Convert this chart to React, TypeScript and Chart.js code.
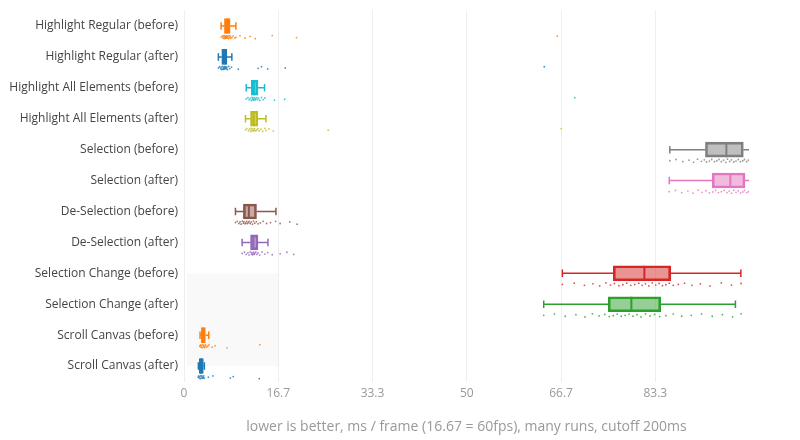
import React, { useEffect, useRef } from "react";
import { Chart, registerables } from "chart.js";

Chart.register(...registerables);

const categories = [
  "Highlight Regular (before)",
  "Highlight Regular (after)",
  "Highlight All Elements (before)",
  "Highlight All Elements (after)",
  "Selection (before)",
  "Selection (after)",
  "De-Selection (before)",
  "De-Selection (after)",
  "Selection Change (before)",
  "Selection Change (after)",
  "Scroll Canvas (before)",
  "Scroll Canvas (after)",
];

const colors = [
  "#ff7f0e", "#1f77b4", "#17becf", "#bcbd22", "#7f7f7f", "#e377c2",
  "#8c564b", "#9467bd", "#d62728", "#2ca02c", "#ff7f0e", "#1f77b4",
];

const whiskerLow = [6.56, 6.08, 11.0, 10.87, 85.9, 85.8, 9.1, 10.28, 66.9, 63.6, 2.84, 2.54];
const q1 = [7.15, 6.68, 11.9, 11.76, 92.2, 93.4, 10.5, 11.76, 75.9, 75.0, 3.07, 2.71];
const median = [7.62, 7.15, 12.4, 12.36, 95.9, 96.6, 11.47, 12.3, 81.4, 79.1, 3.42, 3.0];
const q3 = [8.16, 7.57, 13.07, 13.07, 98.9, 99.2, 12.82, 13.07, 86.05, 84.3, 3.78, 3.42];
const whiskerHigh = [9.17, 8.46, 14.24, 14.49, 101, 101, 16.26, 14.84, 98.46, 97.5, 4.38, 3.6];

const ptsHRBefore = [6.6, 6.8, 6.9, 7.0, 7.1, 7.1, 7.2, 7.3, 7.3, 7.4, 7.5, 7.5, 7.6, 7.6, 7.7, 7.8, 7.9, 8.0, 8.1, 8.2, 8.3, 8.5, 8.7, 9.0, 9.2, 9.9, 10.8, 11.7, 12.6, 15.6, 19.9, 66.0];
const ptsHRAfter = [6.1, 6.3, 6.5, 6.6, 6.7, 6.8, 6.9, 7.0, 7.0, 7.1, 7.2, 7.2, 7.3, 7.4, 7.5, 7.6, 7.7, 7.9, 8.1, 8.4, 9.6, 13.1, 13.7, 14.8, 17.9, 63.7];
const ptsHAEBefore = [11.0, 11.3, 11.5, 11.7, 11.9, 12.0, 12.1, 12.2, 12.3, 12.4, 12.5, 12.6, 12.7, 12.9, 13.0, 13.2, 13.4, 13.7, 14.0, 14.3, 16.0, 17.8, 69.1];
const ptsHAEAfter = [10.9, 11.1, 11.4, 11.6, 11.8, 11.9, 12.0, 12.2, 12.3, 12.4, 12.5, 12.7, 12.9, 13.1, 13.3, 13.6, 13.9, 14.3, 14.5, 15.0, 15.8, 25.5, 66.7];
const ptsSelBefore = [85.9, 87.0, 88.2, 89.3, 90.1, 90.8, 91.5, 92.0, 92.4, 92.9, 93.3, 93.8, 94.2, 94.6, 95.0, 95.4, 95.8, 96.1, 96.5, 96.8, 97.2, 97.6, 98.0, 98.4, 98.8, 99.1, 99.5, 99.8];
const ptsSelAfter = [85.8, 86.9, 88.0, 89.1, 90.0, 90.9, 91.6, 92.3, 92.9, 93.5, 94.0, 94.5, 95.0, 95.5, 96.0, 96.4, 96.8, 97.2, 97.6, 98.0, 98.4, 98.8, 99.1, 99.5, 99.8];
const ptsDeSelBefore = [9.1, 9.4, 9.7, 9.9, 10.1, 10.3, 10.5, 10.6, 10.8, 10.9, 11.1, 11.2, 11.4, 11.5, 11.7, 11.9, 12.1, 12.3, 12.5, 12.8, 13.1, 13.5, 14.0, 14.6, 15.3, 16.2, 17.0, 18.7, 20.0];
const ptsDeSelAfter = [10.3, 10.7, 11.0, 11.3, 11.5, 11.7, 11.9, 12.0, 12.1, 12.2, 12.3, 12.4, 12.5, 12.7, 12.9, 13.1, 13.4, 13.8, 14.3, 14.8, 15.6, 17.0, 18.2, 19.4];
const ptsSelChBefore = [66.9, 69.0, 70.8, 72.3, 73.5, 74.6, 75.4, 76.1, 76.9, 77.6, 78.3, 79.0, 79.7, 80.4, 81.0, 81.6, 82.2, 82.8, 83.4, 84.0, 84.6, 85.2, 85.8, 86.5, 87.4, 88.5, 89.8, 91.3, 93.0, 95.0, 96.8, 98.5];
const ptsSelChAfter = [63.6, 65.5, 67.4, 69.3, 70.9, 72.2, 73.4, 74.4, 75.2, 75.9, 76.6, 77.3, 78.0, 78.7, 79.4, 80.1, 80.8, 81.6, 82.4, 83.2, 84.1, 85.2, 86.5, 88.0, 89.7, 91.5, 93.4, 95.2, 97.0, 98.5];
const ptsScrollBefore = [2.8, 2.9, 3.0, 3.1, 3.2, 3.3, 3.4, 3.5, 3.6, 3.7, 3.8, 4.0, 4.2, 4.4, 5.0, 5.5, 7.6, 13.4];
const ptsScrollAfter = [2.5, 2.6, 2.7, 2.8, 2.9, 3.0, 3.1, 3.2, 3.3, 3.4, 3.5, 3.6, 4.3, 5.1, 8.2, 8.7, 13.3];

const points = [
  ptsHRBefore, ptsHRAfter, ptsHAEBefore, ptsHAEAfter, ptsSelBefore, ptsSelAfter,
  ptsDeSelBefore, ptsDeSelAfter, ptsSelChBefore, ptsSelChAfter, ptsScrollBefore, ptsScrollAfter,
];

const xTicks = [0, 16.667, 33.333, 50, 66.667, 83.333];
const xTickLabels = ["0", "16.7", "33.3", "50", "66.7", "83.3"];
const xMax = 99.9;
const xTitle = "lower is better, ms / frame (16.67 = 60fps), many runs, cutoff 200ms";

// shaded region (data coords)
const shadeX = [0.53, 16.667];
const shadeY = [8, 11];

const pointOffset = 0.36;
const jitter = [0, -0.04, 0.03, -0.02, 0.05, -0.05, 0.02, -0.03, 0.04, 0.01, -0.04, 0.03];

function hexA(hex: string, a: number) {
  const n = parseInt(hex.slice(1), 16);
  return `rgba(${(n >> 16) & 255},${(n >> 8) & 255},${n & 255},${a})`;
}

const FONT = "'Open Sans', sans-serif";

export default function App() {
  const ref = useRef<HTMLCanvasElement | null>(null);
  useEffect(() => {
    document.body.style.margin = "0";
    const canvas = ref.current!;
    const boxPlugin = {
      id: "boxExtras",
      beforeDatasetsDraw(chart: any) {
        const { ctx, scales } = chart;
        const x = scales.x, y = scales.y;
        ctx.save();
        ctx.fillStyle = "rgba(0,0,0,0.022)";
        const x0 = x.getPixelForValue(shadeX[0]);
        const x1 = x.getPixelForValue(shadeX[1]);
        const y0 = y.getPixelForValue(shadeY[0]);
        const y1 = y.getPixelForValue(shadeY[1]);
        ctx.fillRect(x0, y0, x1 - x0, y1 - y0);
        ctx.restore();
      },
      afterDatasetsDraw(chart: any) {
        const { ctx, chartArea, scales } = chart;
        const x = scales.x, y = scales.y;
        ctx.save();
        ctx.beginPath();
        ctx.rect(chartArea.left, chartArea.top, chartArea.right - chartArea.left, chartArea.bottom - chartArea.top);
        ctx.clip();
        categories.forEach((_, i) => {
          const cy = y.getPixelForValue(i);
          const c = colors[i];
          ctx.strokeStyle = c;
          ctx.lineWidth = 1.5;
          const lo = x.getPixelForValue(whiskerLow[i]);
          const a = x.getPixelForValue(q1[i]);
          const b = x.getPixelForValue(q3[i]);
          const hi = x.getPixelForValue(whiskerHigh[i]);
          ctx.beginPath();
          ctx.moveTo(lo, cy);
          ctx.lineTo(a, cy);
          ctx.moveTo(b, cy);
          ctx.lineTo(hi, cy);
          ctx.moveTo(lo, cy - 3.75);
          ctx.lineTo(lo, cy + 3.75);
          ctx.moveTo(hi, cy - 3.75);
          ctx.lineTo(hi, cy + 3.75);
          ctx.stroke();
          const m = x.getPixelForValue(median[i]);
          ctx.lineWidth = 2;
          ctx.beginPath();
          ctx.moveTo(m, cy - 7.5);
          ctx.lineTo(m, cy + 7.5);
          ctx.stroke();
        });
        ctx.restore();
      },
    };

    const datasets: any[] = [
      {
        type: "bar",
        indexAxis: "y",
        xAxisID: "x",
        yAxisID: "y",
        data: categories.map((_, i) => ({ x: [q1[i], q3[i]], y: i })),
        backgroundColor: colors.map((c) => hexA(c, 0.5)),
        borderColor: colors,
        borderWidth: 2,
        borderSkipped: false,
        barThickness: 15,
        order: 1,
      },
      ...points.map((pts, i) => ({
        type: "scatter",
        xAxisID: "x",
        yAxisID: "y",
        data: pts.map((v, j) => ({ x: v, y: i + pointOffset + jitter[j % jitter.length] })),
        backgroundColor: hexA(colors[i], 0.8),
        borderWidth: 0,
        pointRadius: 0.9,
        order: 2,
      })),
    ];

    const chart = new Chart(canvas, {
      type: "bar",
      data: { datasets },
      options: {
        animation: false,
        responsive: false,
        maintainAspectRatio: false,
        layout: { padding: { top: 10.5, right: 51, left: 0, bottom: 0 } },
        plugins: { legend: { display: false }, tooltip: { enabled: false } },
        scales: {
          x: {
            type: "linear",
            position: "bottom",
            offset: false,
            min: 0,
            max: xMax,
            afterBuildTicks: (axis: any) => {
              axis.ticks = xTicks.map((v) => ({ value: v }));
            },
            afterFit: (axis: any) => {
              axis.height = 58.5;
              axis.paddingLeft = 0;
              axis.paddingRight = 0;
            },
            ticks: {
              autoSkip: false,
              maxRotation: 0,
              padding: 5,
              color: "#999",
              font: { family: FONT, size: 12 },
              callback: (_v: any, idx: number) => xTickLabels[idx],
            },
            grid: { color: "#eeeeee", lineWidth: 1, drawTicks: false, offset: false },
            border: { display: false },
            title: {
              display: true,
              text: xTitle,
              color: "#999",
              font: { family: FONT, size: 14 },
              padding: { top: 0, bottom: 4.6 },
            },
          },
          y: {
            type: "linear",
            position: "left",
            reverse: true,
            offset: false,
            min: -0.5,
            max: 11.5,
            afterBuildTicks: (axis: any) => {
              axis.ticks = categories.map((_, i) => ({ value: i }));
            },
            afterFit: (axis: any) => {
              axis.width = 184;
              axis.paddingTop = 0;
              axis.paddingBottom = 0;
            },
            ticks: {
              autoSkip: false,
              padding: 6,
              color: "#444",
              font: { family: FONT, size: 12 },
              callback: (v: any) => categories[Math.round(Number(v))],
            },
            grid: { display: false, drawTicks: false, offset: false },
            border: { display: false },
          },
        },
      },
      plugins: [boxPlugin],
    } as any);
    return () => chart.destroy();
  }, []);
  return (
    <div style={{ width: 800, height: 440 }}>
      <canvas ref={ref} width={800} height={440} style={{ display: "block", width: 800, height: 440 }} />
    </div>
  );
}
